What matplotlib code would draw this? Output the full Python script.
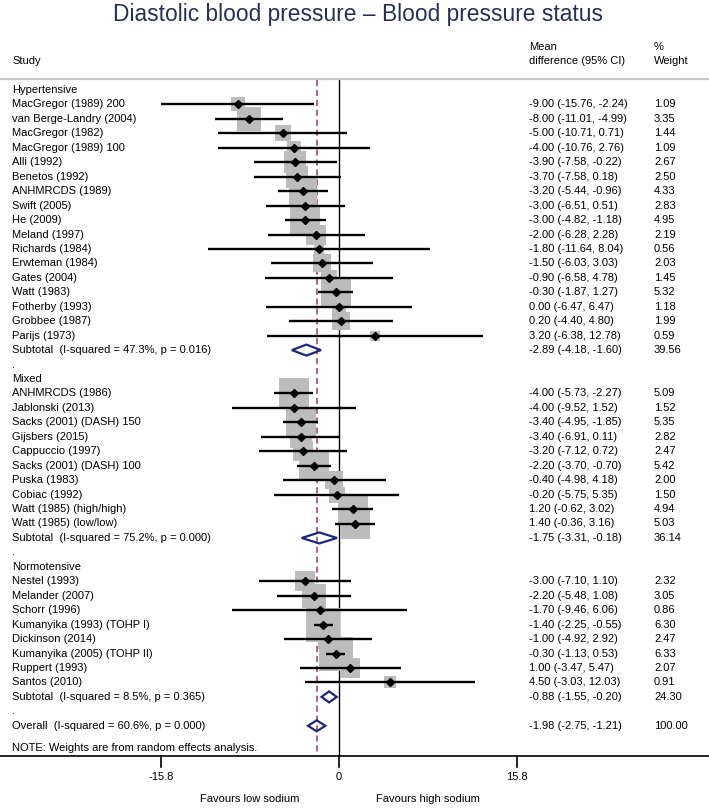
import numpy as np
import matplotlib.pyplot as plt
from matplotlib.patches import Polygon

plt.rcParams['font.family'] = ['Liberation Sans', 'DejaVu Sans']

# ---- data ----
groups = ['Hypertensive', 'Mixed', 'Normotensive']

hyp_study = ['MacGregor (1989) 200', 'van Berge-Landry (2004)', 'MacGregor (1982)',
             'MacGregor (1989) 100', 'Alli (1992)', 'Benetos (1992)', 'ANHMRCDS (1989)',
             'Swift (2005)', 'He (2009)', 'Meland (1997)', 'Richards (1984)',
             'Erwteman (1984)', 'Gates (2004)', 'Watt (1983)', 'Fotherby (1993)',
             'Grobbee (1987)', 'Parijs (1973)']
hyp_md = [-9.00, -8.00, -5.00, -4.00, -3.90, -3.70, -3.20, -3.00, -3.00, -2.00, -1.80,
          -1.50, -0.90, -0.30, 0.00, 0.20, 3.20]
hyp_lo = [-15.76, -11.01, -10.71, -10.76, -7.58, -7.58, -5.44, -6.51, -4.82, -6.28, -11.64,
          -6.03, -6.58, -1.87, -6.47, -4.40, -6.38]
hyp_hi = [-2.24, -4.99, 0.71, 2.76, -0.22, 0.18, -0.96, 0.51, -1.18, 2.28, 8.04,
          3.03, 4.78, 1.27, 6.47, 4.80, 12.78]
hyp_wt = [1.09, 3.35, 1.44, 1.09, 2.67, 2.50, 4.33, 2.83, 4.95, 2.19, 0.56,
          2.03, 1.45, 5.32, 1.18, 1.99, 0.59]

mix_study = ['ANHMRCDS (1986)', 'Jablonski (2013)', 'Sacks (2001) (DASH) 150',
             'Gijsbers (2015)', 'Cappuccio (1997)', 'Sacks (2001) (DASH) 100',
             'Puska (1983)', 'Cobiac (1992)', 'Watt (1985) (high/high)',
             'Watt (1985) (low/low)']
mix_md = [-4.00, -4.00, -3.40, -3.40, -3.20, -2.20, -0.40, -0.20, 1.20, 1.40]
mix_lo = [-5.73, -9.52, -4.95, -6.91, -7.12, -3.70, -4.98, -5.75, -0.62, -0.36]
mix_hi = [-2.27, 1.52, -1.85, 0.11, 0.72, -0.70, 4.18, 5.35, 3.02, 3.16]
mix_wt = [5.09, 1.52, 5.35, 2.82, 2.47, 5.42, 2.00, 1.50, 4.94, 5.03]

norm_study = ['Nestel (1993)', 'Melander (2007)', 'Schorr (1996)',
              'Kumanyika (1993) (TOHP I)', 'Dickinson (2014)',
              'Kumanyika (2005) (TOHP II)', 'Ruppert (1993)', 'Santos (2010)']
norm_md = [-3.00, -2.20, -1.70, -1.40, -1.00, -0.30, 1.00, 4.50]
norm_lo = [-7.10, -5.48, -9.46, -2.25, -4.92, -1.13, -3.47, -3.03]
norm_hi = [1.10, 1.08, 6.06, -0.55, 2.92, 0.53, 5.47, 12.03]
norm_wt = [2.32, 3.05, 0.86, 6.30, 2.47, 6.33, 2.07, 0.91]

sub_label = ['Subtotal  (I-squared = 47.3%, p = 0.016)',
             'Subtotal  (I-squared = 75.2%, p = 0.000)',
             'Subtotal  (I-squared = 8.5%, p = 0.365)']
sub_md = [-2.89, -1.75, -0.88]
sub_lo = [-4.18, -3.31, -1.55]
sub_hi = [-1.60, -0.18, -0.20]
sub_wt = [39.56, 36.14, 24.30]

overall_label = 'Overall  (I-squared = 60.6%, p = 0.000)'
overall_md, overall_lo, overall_hi, overall_wt = -1.98, -2.75, -1.21, 100.00

xticks = [-15.8, 0, 15.8]

# ---- layout (pixels) ----
W, H = 709, 808
x0px, upx = 339, 11.27      # pixel of zero, pixels per unit
y0px, rowpx = 90, 14.45     # pixel of first row, row spacing


def ry(py):
    return (py - y0px) / rowpx


fig = plt.figure(figsize=(W / 100, H / 100), dpi=100)
ax = fig.add_axes([0, 0, 1, 1])
ax.set_xlim(-x0px / upx, (W - x0px) / upx)
ax.set_ylim(ry(H), ry(0))
ax.axis('off')

tr = ax.get_yaxis_transform()   # x in axes fraction, y in rows
fs = 8
navy = '#1e2878'
col_study, col_md, col_wt = 12 / W, 529 / W, 654 / W

fig.text(358 / W, 1 - 14 / H, 'Diastolic blood pressure \u2013 Blood pressure status',
         ha='center', va='center', fontsize=16.4, color='#28305a')

ax.text(col_study, ry(61), 'Study', transform=tr, fontsize=fs, va='center')
ax.text(col_md, ry(47), 'Mean', transform=tr, fontsize=fs, va='center')
ax.text(col_md, ry(61), 'difference (95% CI)', transform=tr, fontsize=fs, va='center')
ax.text(col_wt, ry(47), '%', transform=tr, fontsize=fs, va='center')
ax.text(col_wt, ry(61), 'Weight', transform=tr, fontsize=fs, va='center')
ax.plot([0, 1], [ry(79), ry(79)], transform=tr, color='#c8c8c8', lw=1.6, clip_on=False)

# reference lines
ax.plot([0, 0], [ry(80), ry(756)], color='black', lw=1.0, zorder=1)
ax.plot([overall_md, overall_md], [ry(80), ry(756)], color='#a33b4b', lw=1.1,
        dashes=(4, 2.5), zorder=1)


def diamond(md, lo, hi, r):
    h = 5.5 / rowpx
    ax.add_patch(Polygon([(lo, r), (md, r - h), (hi, r), (md, r + h)], closed=True,
                         fill=False, edgecolor=navy, lw=1.6, zorder=5))


def row_text(r, label, md, lo, hi, wt):
    ax.text(col_study, r, label, transform=tr, fontsize=fs, va='center')
    ax.text(col_md, r, f'{md:.2f} ({lo:.2f}, {hi:.2f})', transform=tr, fontsize=fs,
            va='center')
    ax.text(col_wt, r, f'{wt:.2f}', transform=tr, fontsize=fs, va='center')


studies = [(hyp_study, hyp_md, hyp_lo, hyp_hi, hyp_wt),
           (mix_study, mix_md, mix_lo, mix_hi, mix_wt),
           (norm_study, norm_md, norm_lo, norm_hi, norm_wt)]

r = 0
for g, (names, md, lo, hi, wt) in enumerate(studies):
    ax.text(col_study, r, groups[g], transform=tr, fontsize=fs, va='center')
    r += 1
    for i in range(len(names)):
        side = 13.3 * np.sqrt(wt[i]) * 0.72
        ax.scatter(md[i], r, marker='s', s=side ** 2, color='#bcbcbc', linewidths=0,
                   zorder=2)
        ax.plot([lo[i], hi[i]], [r, r], color='black', lw=1.7, solid_capstyle='butt',
                zorder=3)
        ax.plot(md[i], r, 'D', ms=3.8, color='black', zorder=4)
        row_text(r, names[i], md[i], lo[i], hi[i], wt[i])
        r += 1
    diamond(sub_md[g], sub_lo[g], sub_hi[g], r)
    row_text(r, sub_label[g], sub_md[g], sub_lo[g], sub_hi[g], sub_wt[g])
    r += 1
    ax.text(col_study, r, '.', transform=tr, fontsize=fs, va='center')
    r += 1

diamond(overall_md, overall_lo, overall_hi, r)
row_text(r, overall_label, overall_md, overall_lo, overall_hi, overall_wt)
ax.text(col_study, ry(748), 'NOTE: Weights are from random effects analysis.',
        transform=tr, fontsize=fs, va='center')

# x axis
ax.plot([0, 1], [ry(756), ry(756)], transform=tr, color='black', lw=1.2, clip_on=False)
for t in xticks:
    ax.plot([t, t], [ry(756), ry(767)], color='black', lw=1.2)
    ax.text(t, ry(777), f'{t:g}', ha='center', va='center', fontsize=fs)
ax.text(-7.9, ry(799), 'Favours low sodium', ha='center', va='center', fontsize=fs)
ax.text(7.9, ry(799), 'Favours high sodium', ha='center', va='center', fontsize=fs)

fig.savefig('out.png', dpi=100)
